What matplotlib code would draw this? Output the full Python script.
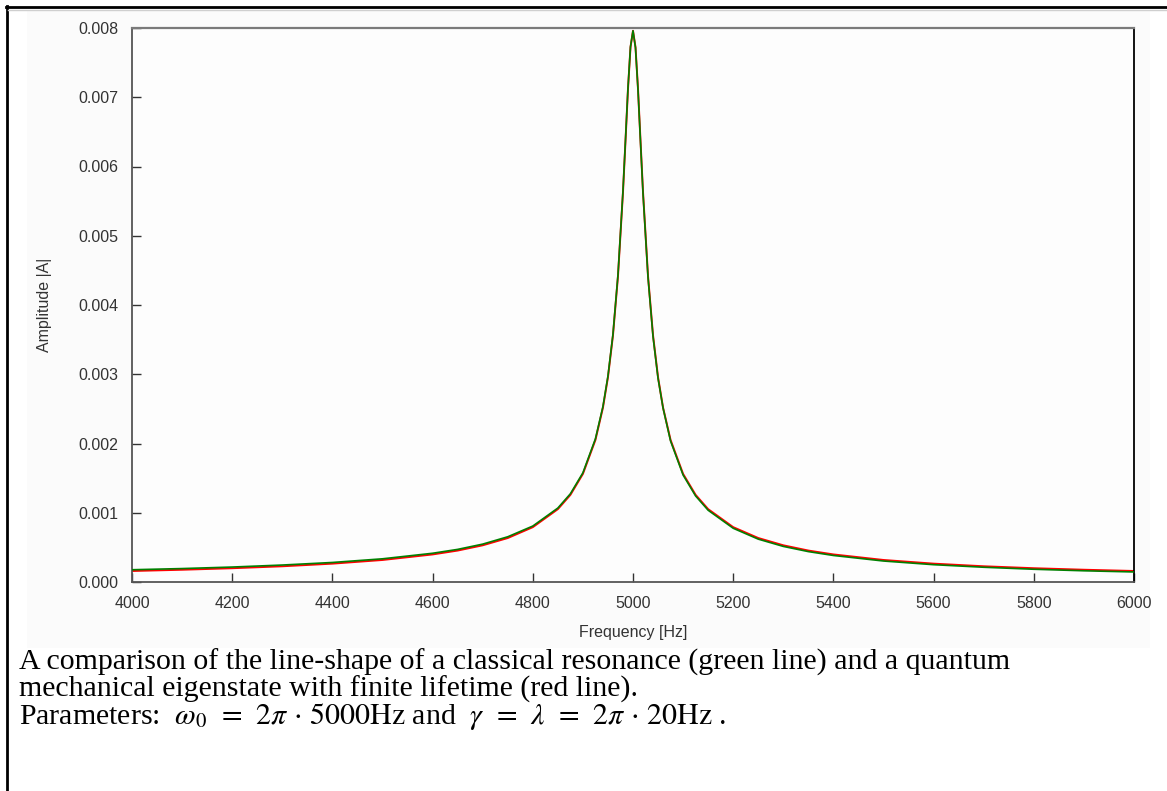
import matplotlib
matplotlib.use("Agg")
import matplotlib.pyplot as plt
from matplotlib.patches import Rectangle
from matplotlib.lines import Line2D

# ---- data ----
freq_hz = [4000, 4100, 4200, 4300, 4400, 4500, 4600, 4650, 4700, 4750, 4800,
           4850, 4875, 4900, 4925, 4940, 4950, 4960, 4970, 4980, 4985, 4990,
           4995, 5000, 5005, 5010, 5015, 5020, 5030, 5040, 5050, 5060, 5075,
           5100, 5125, 5150, 5200, 5250, 5300, 5350, 5400, 5500, 5600, 5700,
           5800, 5900, 6000]

classical_amp = [0.000177, 0.000194, 0.000216, 0.000245, 0.000282, 0.000335,
                 0.000415, 0.000471, 0.000547, 0.000653, 0.000808, 0.001068,
                 0.001274, 0.001577, 0.002068, 0.002534, 0.002973, 0.003577,
                 0.004433, 0.005645, 0.006384, 0.007133, 0.007730, 0.007960,
                 0.007715, 0.007107, 0.006352, 0.005612, 0.004398, 0.003543,
                 0.002940, 0.002512, 0.002035, 0.001545, 0.001242, 0.001036,
                 0.000776, 0.000619, 0.000514, 0.000439, 0.000383, 0.000303,
                 0.000250, 0.000213, 0.000184, 0.000162, 0.000145]

quantum_amp = [0.000159, 0.000177, 0.000199, 0.000227, 0.000265, 0.000318,
               0.000398, 0.000454, 0.000530, 0.000635, 0.000792, 0.001052,
               0.001258, 0.001561, 0.002051, 0.002517, 0.002956, 0.003560,
               0.004415, 0.005629, 0.006368, 0.007120, 0.007722, 0.007960,
               0.007722, 0.007120, 0.006368, 0.005629, 0.004415, 0.003560,
               0.002956, 0.002517, 0.002051, 0.001561, 0.001258, 0.001052,
               0.000792, 0.000635, 0.000530, 0.000454, 0.000398, 0.000318,
               0.000265, 0.000227, 0.000199, 0.000177, 0.000159]

x_ticks = [4000, 4200, 4400, 4600, 4800, 5000, 5200, 5400, 5600, 5800, 6000]
y_ticks = [0.000, 0.001, 0.002, 0.003, 0.004, 0.005, 0.006, 0.007, 0.008]

x_label = "Frequency [Hz]"
y_label = "Amplitude |A|"
caption_lines = [
    "A comparison of the line-shape of a classical resonance (green line) and a quantum",
    "mechanical eigenstate with finite lifetime (red line).",
    r"Parameters:  $\omega_{0}\;\,=\;\,2\pi\, \cdot\, 5000\mathrm{Hz}$ and  $\gamma\;\,=\;\,\lambda\;\,=\;\,2\pi\, \cdot\, 20\mathrm{Hz}$ .",
]

# ---- figure ----
W, H = 1167, 791
DPI = 100
plt.rcParams["mathtext.fontset"] = "stix"
fig = plt.figure(figsize=(W / DPI, H / DPI), dpi=DPI, facecolor="white")

def fx(px):
    return px / W

def fy(py):
    return 1 - py / H

# light panel behind chart
panel = Rectangle((fx(27), fy(648)), fx(1150) - fx(27), fy(10) - fy(648),
                  transform=fig.transFigure, facecolor="#fbfbfb",
                  edgecolor="none", zorder=-10)
fig.add_artist(panel)
# outer frame (top and left)
fig.add_artist(Line2D([fx(6), 1.0], [fy(7), fy(7)], transform=fig.transFigure,
                      color="black", lw=2.0, zorder=-5))
fig.add_artist(Line2D([fx(7), fx(7)], [fy(6), 0.0], transform=fig.transFigure,
                      color="black", lw=2.0, zorder=-5))
fig.add_artist(Line2D([fx(8), 1.0], [fy(9.5), fy(9.5)], transform=fig.transFigure,
                      color="#cfcfcf", lw=1.0, zorder=-5))

left, right, top, bottom = 132, 1134, 28, 582
ax = fig.add_axes([fx(left), fy(bottom), fx(right) - fx(left), fy(top) - fy(bottom)])
ax.set_zorder(1)
ax.set_facecolor("#fdfdfd")

ax.plot(freq_hz, quantum_amp, color="#ff0000", lw=1.4, zorder=2)
ax.plot(freq_hz, classical_amp, color="#008000", lw=1.2, zorder=3)

ax.set_xlim(4000, 6000)
ax.set_ylim(0, 0.008)
ax.set_xticks(x_ticks)
ax.set_yticks(y_ticks)
ax.set_xticklabels([str(t) for t in x_ticks])
ax.set_yticklabels(["%.3f" % t for t in y_ticks])

tick_font = dict(family="Liberation Sans", size=11.5)
for lab in ax.get_xticklabels() + ax.get_yticklabels():
    lab.set_fontfamily("Liberation Sans")
    lab.set_fontsize(11.5)
    lab.set_color("#333333")

ax.tick_params(direction="in", length=6.5, width=1.0, color="#333333", pad=10)
ax.spines["top"].set_color("#7a7a7a")
ax.spines["top"].set_linewidth(1.6)
ax.spines["left"].set_color("#555555")
ax.spines["left"].set_linewidth(1.3)
ax.spines["bottom"].set_color("#555555")
ax.spines["bottom"].set_linewidth(1.3)
ax.spines["right"].set_color("black")
ax.spines["right"].set_linewidth(1.3)

fig.text(fx(45), fy(305), y_label, rotation=90, ha="center", va="center",
         color="#333333", **tick_font)
fig.text(fx(633), fy(633), x_label, ha="center", va="center",
         color="#333333", **tick_font)

cap_y = [670, 697, 724]
for line, yy in zip(caption_lines, cap_y):
    fig.text(fx(19), fy(yy), line, ha="left", va="baseline",
             family="Liberation Serif", size=21.5, color="black")

fig.savefig("out.png", dpi=DPI, facecolor="white")
